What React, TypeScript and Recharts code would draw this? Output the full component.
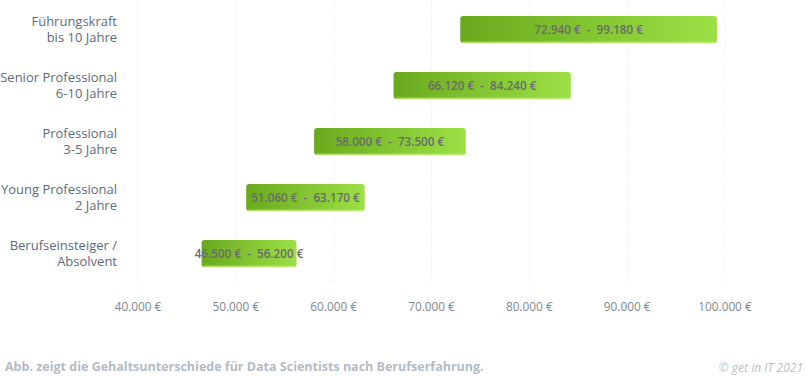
import React from "react";
import {
  BarChart,
  Bar,
  XAxis,
  YAxis,
  CartesianGrid,
  LabelList,
} from "recharts";

const levelTitles = [
  "Führungskraft",
  "Senior Professional",
  "Professional",
  "Young Professional",
  "Berufseinsteiger /",
];
const levelYears = ["bis 10 Jahre", "6-10 Jahre", "3-5 Jahre", "2 Jahre", "Absolvent"];
const salaryMin = [72940, 66120, 58000, 51060, 46500];
const salaryMax = [99180, 84240, 73500, 63170, 56200];
const xTicks = [40000, 50000, 60000, 70000, 80000, 90000, 100000];

const data = levelTitles.map((t, i) => ({
  name: t,
  sub: levelYears[i],
  range: [salaryMin[i], salaryMax[i]],
}));

const font = "'Open Sans', 'Noto Sans', sans-serif";
const euro = (v: number) => v.toLocaleString("de-DE") + " €";

const LevelTick = (props: any) => {
  const { y, payload } = props;
  const row = data[payload.index] || data.find((d) => d.name === payload.value);
  return (
    <g>
      <text x={117} y={y - 3} textAnchor="end" fontFamily={font} fontSize={13} fill="#5d6b7a">
        {payload.value}
      </text>
      <text x={117} y={y + 13} textAnchor="end" fontFamily={font} fontSize={13} fill="#5d6b7a">
        {row ? row.sub : ""}
      </text>
    </g>
  );
};

const RangeShape = (props: any) => {
  const { x, y, width, height } = props;
  return (
    <g>
      <rect x={x} y={y} width={width} height={height} rx={3} ry={3} fill="url(#barGrad)" />
      <rect x={x + 2} y={y + height - 1.5} width={Math.max(width - 4, 0)} height={1.5} fill="#b4ec70" opacity={0.8} />
    </g>
  );
};

const RangeLabel = (props: any) => {
  const { x, y, width, height, index } = props;
  const row = data[index];
  return (
    <text
      x={x + width / 2}
      y={y + height / 2}
      dy={4.2}
      textAnchor="middle"
      fontFamily={font}
      fontSize={11.7}
      fontWeight={600}
      fill="#6b6b6b"
      style={{ whiteSpace: "pre" }}
    >
      {euro(row.range[0]) + "  -  " + euro(row.range[1])}
    </text>
  );
};

export default function App() {
  return (
    <div style={{ position: "absolute", left: 0, top: 0, width: 806, height: 376, background: "#fff", fontFamily: font }}>
      <BarChart
        width={806}
        height={330}
        data={data}
        layout="vertical"
        margin={{ top: 1, right: 81, left: 0, bottom: 19 }}
        barCategoryGap={14}
      >
        <defs>
          <linearGradient id="barGrad" x1="0" y1="0" x2="1" y2="0">
            <stop offset="0%" stopColor="#6aa91d" />
            <stop offset="100%" stopColor="#9ce047" />
          </linearGradient>
        </defs>
        <CartesianGrid horizontal={false} stroke="#dce9f2" strokeDasharray="1 2" />
        <XAxis
          type="number"
          domain={[40000, 100000]}
          ticks={xTicks}
          axisLine={false}
          tickLine={false}
          tickMargin={16}
          tickFormatter={euro}
          tick={{ fill: "#7d8893", fontSize: 11.8, fontFamily: font }}
          allowDataOverflow
        />
        <YAxis
          type="category"
          dataKey="name"
          width={138}
          axisLine={false}
          tickLine={false}
          tick={<LevelTick />}
          interval={0}
        />
        <Bar dataKey="range" barSize={27} shape={<RangeShape />} isAnimationActive={false}>
          <LabelList dataKey="range" content={<RangeLabel />} />
        </Bar>
      </BarChart>
      <div
        style={{
          position: "absolute",
          left: 5,
          top: 358,
          fontSize: 12.5,
          fontWeight: 700,
          color: "#b3bbc3",
        }}
      >
        Abb. zeigt die Gehaltsunterschiede für Data Scientists nach Berufserfahrung.
      </div>
      <div
        style={{
          position: "absolute",
          right: 3,
          top: 359,
          fontSize: 12,
          fontStyle: "italic",
          color: "#b8bfc6",
        }}
      >
        © get in IT 2021
      </div>
    </div>
  );
}
